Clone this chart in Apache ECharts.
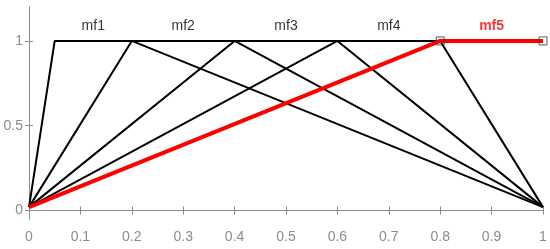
<!DOCTYPE html>
<html>
<head>
<meta charset="utf-8">
<script src="https://cdn.jsdelivr.net/npm/echarts@6/dist/echarts.min.js"></script>
<style>
  html, body { margin: 0; padding: 0; background: #fff; }
  #main { width: 550px; height: 249px; }
</style>
</head>
<body>
<div id="main"></div>
<script>
// membership function breakpoints (x) and their heights (y)
var mfNames = ['mf1', 'mf2', 'mf3', 'mf4', 'mf5'];
var mfX = [
    [0, 0.05, 0.2, 1],
    [0, 0.2, 0.4, 1],
    [0, 0.4, 0.6, 1],
    [0, 0.6, 0.8, 1],
    [0, 0.8, 1]
];
var mfY = [
    [0.02, 1, 1, 0.02],
    [0.02, 1, 1, 0.02],
    [0.02, 1, 1, 0.02],
    [0.02, 1, 1, 0.02],
    [0.02, 1, 1]
];
var labelX = [0.125, 0.3, 0.5, 0.7, 0.9];
var labelY = 1.085;
var xTicks = [0, 0.1, 0.2, 0.3, 0.4, 0.5, 0.6, 0.7, 0.8, 0.9, 1];
var yTicks = [0, 0.5, 1];

function Set_MF_echarts() {
    var dom = document.getElementById('main');
    var myChart = echarts.init(dom, null, { renderer: 'canvas' });

    var axisGray = '#8c8c8c';
    var font = 'Liberation Sans, Arial, sans-serif';
    var series = [];
    for (var i = 0; i < mfNames.length; i++) {
        var pts = [];
        for (var j = 0; j < mfX[i].length; j++) {
            pts.push([mfX[i][j], mfY[i][j]]);
        }
        var isLast = (i === mfNames.length - 1);
        series.push({
            name: mfNames[i],
            type: 'line',
            data: pts,
            z: isLast ? 5 : 3,
            symbol: 'none',
            lineStyle: { color: isLast ? '#ff0000' : '#000', width: isLast ? 4 : 2 },
            animation: false
        });
    }
    // selected markers on mf5
    series.push({
        type: 'scatter',
        data: [[mfX[4][1], mfY[4][1]], [mfX[4][2], mfY[4][2]]],
        symbol: 'rect',
        symbolSize: 8,
        z: 6,
        itemStyle: { color: 'rgba(0,0,0,0)', borderColor: '#333', borderWidth: 1 },
        animation: false
    });
    // mf labels
    var lab = [];
    for (var k = 0; k < mfNames.length; k++) {
        lab.push({
            value: [labelX[k], labelY],
            label: {
                show: true,
                formatter: mfNames[k],
                position: 'inside',
                color: k === 4 ? '#ff0000' : '#000',
                fontWeight: k === 4 ? 'bold' : 'normal',
                fontSize: 14,
                fontFamily: font
            }
        });
    }
    series.push({
        type: 'scatter',
        data: lab,
        symbolSize: 0,
        z: 7,
        animation: false
    });

    var option = {
        animation: false,
        grid: { left: 29, right: 7, top: 7, bottom: 30 },
        xAxis: [
            {
                type: 'value', min: 0, max: 1, interval: 0.1,
                axisLine: { show: true, lineStyle: { color: axisGray, width: 1 } },
                axisTick: { show: true, inside: true, length: 4, lineStyle: { color: axisGray } },
                axisLabel: {
                    color: '#8c8c8c', fontSize: 14, margin: 11,
                    fontFamily: font,
                    formatter: function (v) { return String(Math.round(v * 10) / 10); }
                },
                splitLine: { show: false }
            },
            {
                type: 'value', min: 0, max: 1, interval: 0.1, position: 'top',
                axisLine: { show: true, lineStyle: { color: axisGray, width: 1 } },
                axisTick: { show: true, inside: true, length: 4, lineStyle: { color: axisGray } },
                axisLabel: { show: false },
                splitLine: { show: false }
            }
        ],
        yAxis: [
            {
                type: 'value', min: -0.05, max: 1.2,
                axisLine: { show: true, lineStyle: { color: axisGray, width: 1 } },
                axisTick: { show: true, inside: true, length: 4, customValues: yTicks, lineStyle: { color: axisGray } },
                axisLabel: {
                    color: '#8c8c8c', fontSize: 14, margin: 6,
                    fontFamily: font,
                    customValues: yTicks
                },
                splitLine: { show: false }
            },
            {
                type: 'value', min: -0.05, max: 1.2, position: 'right',
                axisLine: { show: true, lineStyle: { color: axisGray, width: 1 } },
                axisTick: { show: true, inside: true, length: 4, customValues: yTicks, lineStyle: { color: axisGray } },
                axisLabel: { show: false },
                splitLine: { show: false }
            }
        ],
        series: series
    };

    myChart.setOption(option);
    window.addEventListener('resize', myChart.resize);
}

Set_MF_echarts();
</script>
</body>
</html>
